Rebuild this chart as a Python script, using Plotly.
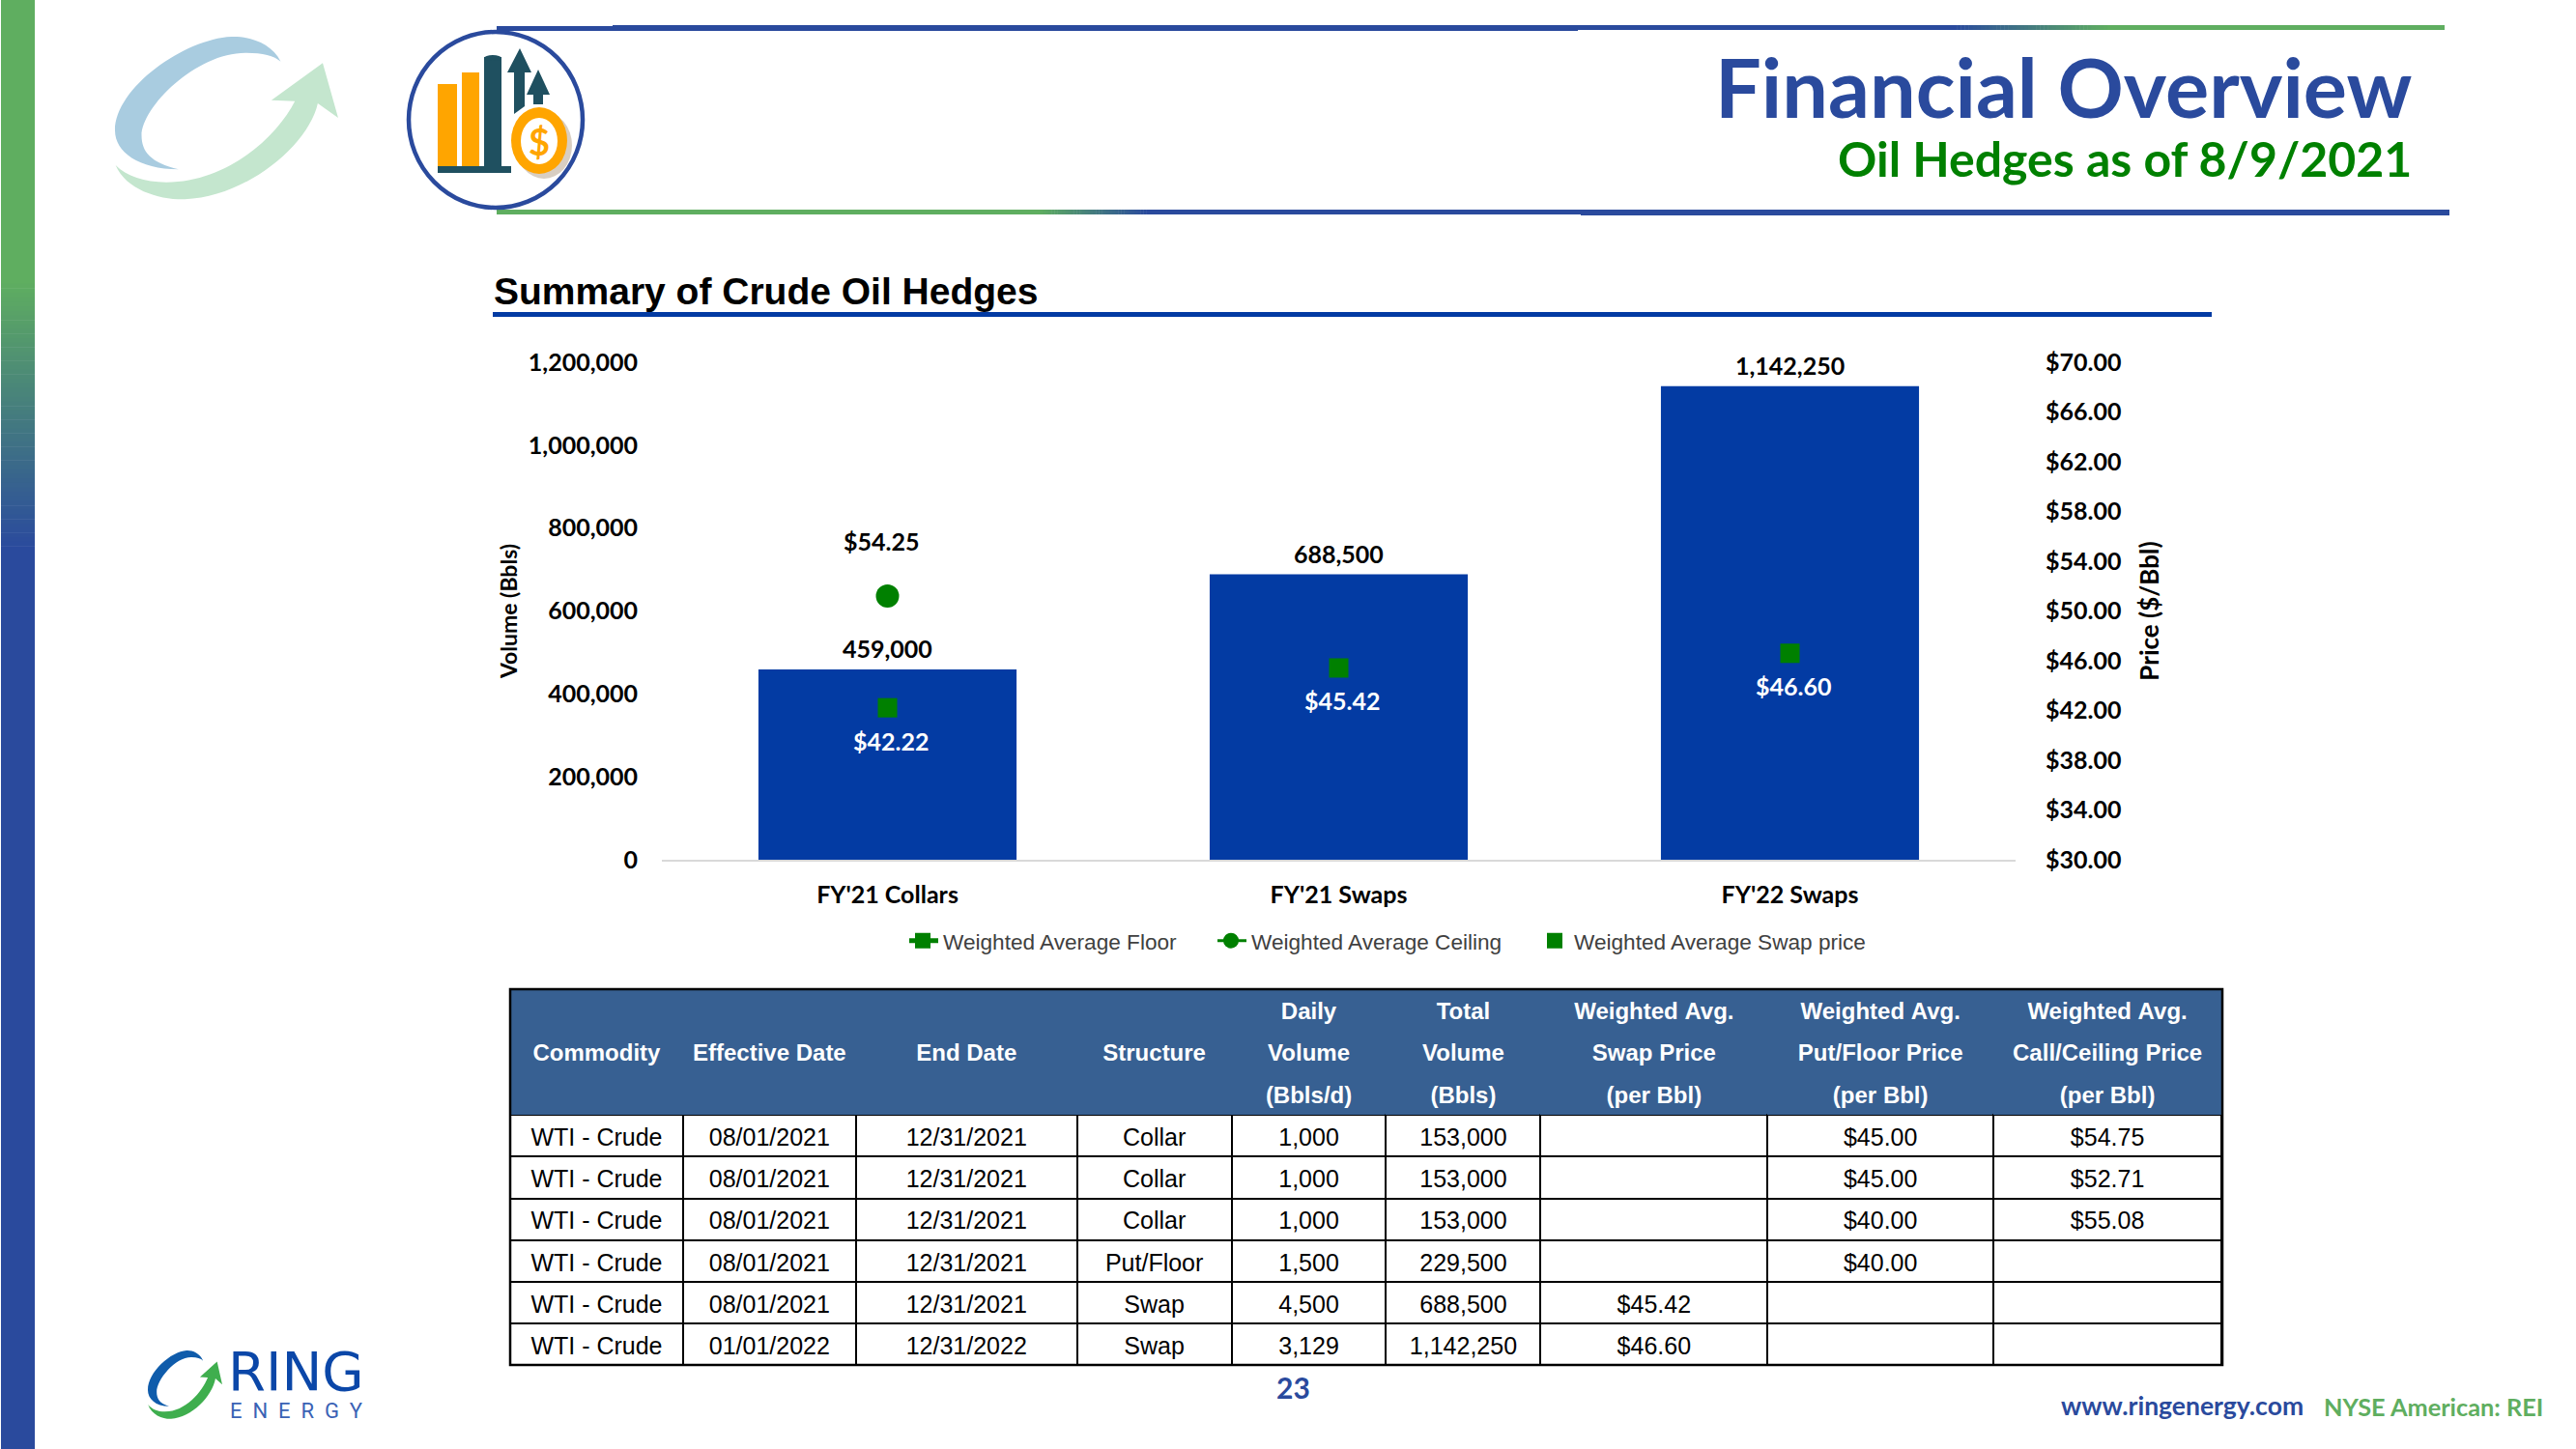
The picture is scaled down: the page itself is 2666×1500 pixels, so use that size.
import plotly.graph_objects as go

# ---------- chart data ----------
categories = ["FY'21 Collars", "FY'21 Swaps", "FY'22 Swaps"]
volumes = [459000, 688500, 1142250]
volume_ticks = [0, 200000, 400000, 600000, 800000, 1000000, 1200000]
price_ticks = [30, 34, 38, 42, 46, 50, 54, 58, 62, 66, 70]
floor_cats = ["FY'21 Collars"]
floor_prices = [42.22]
floor_labels = ["$42.22"]
ceiling_cats = ["FY'21 Collars"]
ceiling_levels = [51.2]          # where the marker is drawn in the picture
ceiling_labels = ["$54.25"]      # what the slide prints beside it
swap_cats = ["FY'21 Swaps", "FY'22 Swaps"]
swap_prices = [45.42, 46.60]
swap_labels = ["$45.42", "$46.60"]

# ---------- table data ----------
header_rows = [
    ["", "Commodity", ""], ["", "Effective\u00A0Date", ""], ["", "End\u00A0Date", ""], ["", "Structure", ""],
    ["Daily", "Volume", "(Bbls/d)"], ["Total", "Volume", "(Bbls)"],
    ["Weighted\u00A0Avg.", "Swap\u00A0Price", "(per\u00A0Bbl)"],
    ["Weighted\u00A0Avg.", "Put/Floor\u00A0Price", "(per\u00A0Bbl)"],
    ["Weighted\u00A0Avg.", "Call/Ceiling\u00A0Price", "(per\u00A0Bbl)"],
]
commodity = ["WTI\u00A0-\u00A0Crude"] * 6
effective = ["08/01/2021"] * 5 + ["01/01/2022"]
end_date = ["12/31/2021"] * 5 + ["12/31/2022"]
structure = ["Collar", "Collar", "Collar", "Put/Floor", "Swap", "Swap"]
daily_vol = ["1,000", "1,000", "1,000", "1,500", "4,500", "3,129"]
total_vol = ["153,000", "153,000", "153,000", "229,500", "688,500", "1,142,250"]
swap_col = ["", "", "", "", "$45.42", "$46.60"]
put_col = ["$45.00", "$45.00", "$40.00", "$40.00", "", ""]
call_col = ["$54.75", "$52.71", "$55.08", "", "", ""]
table_columns = [commodity, effective, end_date, structure, daily_vol, total_vol, swap_col, put_col, call_col]
column_edges = [528, 707, 886, 1115, 1275, 1435, 1595, 1830, 2064, 2300]

W, H = 2666, 1500
BLUE = "#2A4A9D"
BAR = "#033BA3"
GREEN = "#008000"
LIGHTGREEN = "#5FAE60"
TEAL = "#1F5060"
ORANGE = "#FFA500"
CHART_FONT = "Lato"
ARIAL = "Liberation Sans"


def fx(x):
    return x / W


def fy(y):
    return 1 - y / H


shapes = []
annotations = []


def rect(x0, y0, x1, y1, color, layer="below"):
    shapes.append(dict(type="rect", xref="paper", yref="paper", x0=fx(x0), x1=fx(x1), y0=fy(y0), y1=fy(y1),
                       fillcolor=color, line_width=0, layer=layer))


def ellipse(x0, y0, x1, y1, fill, line=None, lw=0):
    shapes.append(dict(type="circle", xref="paper", yref="paper", x0=fx(x0), x1=fx(x1), y0=fy(y0), y1=fy(y1),
                       fillcolor=fill, line=dict(color=line or fill, width=lw), layer="below"))


def poly(points, color):
    d = "M" + " L".join(f"{fx(x):.5f},{fy(y):.5f}" for x, y in points) + " Z"
    shapes.append(dict(type="path", xref="paper", yref="paper", path=d, fillcolor=color, line_width=0, layer="below"))


def mix(c1, c2, t):
    a = [int(c1[i:i + 2], 16) for i in (1, 3, 5)]
    b = [int(c2[i:i + 2], 16) for i in (1, 3, 5)]
    return "#" + "".join(f"{round(p + (q - p) * t):02X}" for p, q in zip(a, b))


def hgrad(x0, x1, y0, y1, c1, c2, n=40):
    for i in range(n):
        rect(x0 + (x1 - x0) * i / n, y0, x0 + (x1 - x0) * (i + 1) / n + 0.5, y1, mix(c1, c2, i / (n - 1)))


def vgrad(x0, x1, y0, y1, c1, c2, n=60):
    for i in range(n):
        rect(x0, y0 + (y1 - y0) * i / n, x1, y0 + (y1 - y0) * (i + 1) / n + 0.5, mix(c1, c2, i / (n - 1)))


def text(s, x, y, size, color, family=CHART_FONT, bold=False, xanchor="left", yanchor="middle"):
    annotations.append(dict(text=f"<b>{s}</b>" if bold else s, x=fx(x), y=fy(y), xref="paper", yref="paper",
                            showarrow=False, xanchor=xanchor, yanchor=yanchor, borderpad=0, borderwidth=0,
                            font=dict(family=family, size=size, color=color)))


CRESCENT = [("M", 455, 190), ("C", 440, 130, 400, 110, 375, 113), ("C", 300, 120, 187, 270, 187, 405),
            ("C", 187, 470, 225, 525, 290, 525), ("C", 245, 505, 230, 470, 230, 420),
            ("C", 230, 330, 320, 160, 400, 163), ("C", 425, 163, 445, 172, 455, 190)]
SWOOSH = [("M", 188, 512), ("C", 205, 590, 260, 620, 300, 618), ("C", 400, 610, 500, 450, 515, 320),
          ("L", 548, 365), ("L", 523, 195), ("L", 440, 310), ("L", 478, 313),
          ("C", 450, 420, 370, 565, 270, 565), ("C", 235, 565, 205, 545, 188, 512)]


def swoosh_path(segs, color, box):
    X0, Y0, X1, Y1 = box
    parts = []
    for seg in segs:
        coords = seg[1:]
        out = []
        for i in range(0, len(coords), 2):
            px = X0 + (coords[i] - 187) / (548 - 187) * (X1 - X0)
            py = Y0 + (coords[i + 1] - 113) / (620 - 113) * (Y1 - Y0)
            out.append(f"{fx(px):.5f},{fy(py):.5f}")
        parts.append(seg[0] + " ".join(out))
    shapes.append(dict(type="path", xref="paper", yref="paper", path=" ".join(parts) + " Z",
                       fillcolor=color, line_width=0, layer="below"))


# ---------- slide furniture ----------
rect(1, 0, 36, 289, LIGHTGREEN)
vgrad(1, 36, 289, 570, LIGHTGREEN, BLUE)
rect(1, 570, 36, 1500, BLUE)

rect(514, 27, 634, 32, BLUE)
rect(634, 26, 1633, 32, BLUE)
rect(1633, 26, 2021, 31, BLUE)
hgrad(2021, 2185, 26, 31, BLUE, LIGHTGREEN)
rect(2185, 26, 2530, 31, LIGHTGREEN)
rect(514, 217, 1074, 222, LIGHTGREEN)
hgrad(1074, 1189, 217, 222, LIGHTGREEN, BLUE)
rect(1189, 217, 1636, 222, BLUE)
rect(1636, 217, 2535, 223, BLUE)
rect(510, 323, 2289, 328, BAR)

swoosh_path(CRESCENT, "#A9CCE0", (119, 38, 350, 207))
swoosh_path(SWOOSH, "#C4E6CE", (119, 38, 350, 207))
swoosh_path(CRESCENT, "#0F5CAB", (153, 1398, 230, 1469))
swoosh_path(SWOOSH, "#3FAE4E", (153, 1398, 230, 1469))

ellipse(423, 33, 603, 215, "#FFFFFF", BLUE, 4.5)
rect(453, 87, 473, 172, ORANGE)
rect(478, 75, 496, 172, ORANGE)
rect(501, 59, 519, 172, TEAL)
ellipse(501, 57, 519, 63, TEAL)
rect(453, 172, 529, 179, TEAL)
poly([(538, 50), (550, 75), (543, 75), (543, 110), (532, 118), (532, 75), (525, 75)], TEAL)
poly([(557, 72), (569, 98), (562, 98), (562, 108), (552, 108), (552, 98), (545, 98)], TEAL)
ellipse(534, 116, 592, 185, "#D8CEC2")
ellipse(529, 111, 587, 180, ORANGE)
ellipse(539, 122, 577, 170, "#FFFFFF")
text("$", 558, 146, 38, ORANGE, bold=True, xanchor="center")

text("Financial Overview", 2496, 89, 84.6, BLUE, bold=True, xanchor="right")
text("Oil Hedges as of 8/9/2021", 2496, 164, 50, GREEN, bold=True, xanchor="right")
text("Summary of Crude Oil Hedges", 511, 301, 39, "#000000", family=ARIAL, bold=True)
text("23", 1338, 1436, 30, BLUE, bold=True, xanchor="center")
text("www.ringenergy.com", 2384, 1455, 26.5, BLUE, bold=True, xanchor="right")
text("NYSE American: REI", 2632, 1456, 25.3, LIGHTGREEN, bold=True, xanchor="right")
text("RING", 236, 1419, 56, "#0B47A8", family="DejaVu Sans")
text("E  N  E  R  G  Y", 238, 1460, 22, "#3A62B5", family="Roboto")

# ---------- chart ----------
fig = go.Figure()
fig.add_trace(go.Bar(x=categories, y=volumes, width=0.572, marker=dict(color=BAR, line_width=0),
                     showlegend=False, yaxis="y"))
fig.add_trace(go.Scatter(x=floor_cats, y=floor_prices, yaxis="y2", name="Weighted Average Floor", mode="lines+markers",
                         marker=dict(symbol="square", size=20, color=GREEN), line=dict(color=GREEN, width=5),
                         legend="legend"))
fig.add_trace(go.Scatter(x=ceiling_cats, y=ceiling_levels, yaxis="y2", name="Weighted Average Ceiling", mode="lines+markers",
                         marker=dict(symbol="circle", size=24, color=GREEN), line=dict(color=GREEN, width=3),
                         legend="legend2"))
fig.add_trace(go.Scatter(x=swap_cats, y=swap_prices, yaxis="y2", name="Weighted Average Swap price", mode="markers",
                         marker=dict(symbol="square", size=20, color=GREEN), legend="legend3"))


def value_label(s, x, y, yref, color, xshift, yshift):
    annotations.append(dict(text=f"<b>{s}</b>", x=x, y=y, xref="x", yref=yref, showarrow=False,
                            xshift=xshift, yshift=yshift, font=dict(family=CHART_FONT, size=25, color=color)))


for cat, vol in zip(categories, volumes):
    value_label(f"{vol:,}", cat, vol, "y", "#000000", 0, 22)
for cat, price, lab in zip(floor_cats + swap_cats, floor_prices + swap_prices, floor_labels + swap_labels):
    value_label(lab, cat, price, "y2", "#FFFFFF", 3, -34)
value_label(ceiling_labels[0], ceiling_cats[0], ceiling_levels[0], "y2", "#000000", -7, 57)

fig.add_trace(go.Table(
    domain=dict(x=[fx(column_edges[0]), fx(column_edges[-1])], y=[fy(1414), fy(1024)]),
    columnwidth=[b - a for a, b in zip(column_edges, column_edges[1:])],
    columnorder=list(range(9)),
    header=dict(values=header_rows, height=43.3, align="center", fill_color="#376092",
                line=dict(color="#376092", width=1),
                font=dict(family=ARIAL, size=24, color="#FFFFFF", weight="bold")),
    cells=dict(values=table_columns, height=43.3, align="center", fill_color="#FFFFFF",
               line=dict(color="#000000", width=2),
               font=dict(family=ARIAL, size=25, color="#000000")),
))
shapes.append(dict(type="rect", xref="paper", yref="paper", x0=fx(528), x1=fx(2300), y0=fy(1024), y1=fy(1413),
                   line=dict(color="#000000", width=2.5), fillcolor="rgba(0,0,0,0)", layer="above"))

TICK = dict(family=CHART_FONT, size=25, color="#000000", weight="bold")
legend_common = dict(orientation="h", yanchor="middle", y=fy(974), xanchor="left", bgcolor="rgba(0,0,0,0)",
                     borderwidth=0, itemclick=False, itemdoubleclick=False, indentation=-7,
                     font=dict(family=ARIAL, size=22.6, color="#404040"))
fig.update_layout(
    width=W, height=H, margin=dict(l=0, r=0, t=0, b=0), paper_bgcolor="#FFFFFF", plot_bgcolor="#FFFFFF",
    bargap=0.428,
    xaxis=dict(domain=[fx(685), fx(2086)], range=[-0.5, 2.5], type="category", categoryorder="array", categoryarray=categories,
               showgrid=False, showline=True, linecolor="#D9D9D9", linewidth=2, ticks="", ticklabelstandoff=13,
               tickfont=TICK, automargin=False, anchor="y", zeroline=False),
    yaxis=dict(domain=[fy(890), fy(375)], range=[0, 1200000], tickvals=volume_ticks, tickformat=",", showgrid=False,
               zeroline=False, showline=False, ticks="", ticklabelstandoff=24, tickfont=TICK, automargin=False,
               title=dict(text="Volume (Bbls)", standoff=4, font=dict(family=CHART_FONT, size=23, color="#000000", weight="bold"))),
    yaxis2=dict(domain=[fy(890), fy(375)], range=[30, 70], tickvals=price_ticks, tickformat="$.2f", overlaying="y", side="right",
                anchor="x", showgrid=False, zeroline=False, showline=False, ticks="", ticklabelstandoff=30, tickfont=TICK,
                automargin=False,
                title=dict(text="Price ($/Bbl)", standoff=21, font=dict(family=CHART_FONT, size=26, color="#000000", weight="bold"))),
    legend=dict(x=fx(941), itemwidth=32, **legend_common),
    legend2=dict(x=fx(1260), itemwidth=32, **legend_common),
    legend3=dict(x=fx(1596), itemwidth=30, **legend_common),
    shapes=shapes, annotations=annotations, hovermode=False,
)
fig.write_html("out.html", config={"displayModeBar": False},
               post_script="document.body.style.margin='0';document.body.style.overflow='hidden';"
                           "document.querySelectorAll('.cell-text').forEach(function(t){"
                           "var fs=parseFloat(getComputedStyle(t).fontSize);"
                           "t.setAttribute('dy',(0.75*fs+5)+'px');});")
